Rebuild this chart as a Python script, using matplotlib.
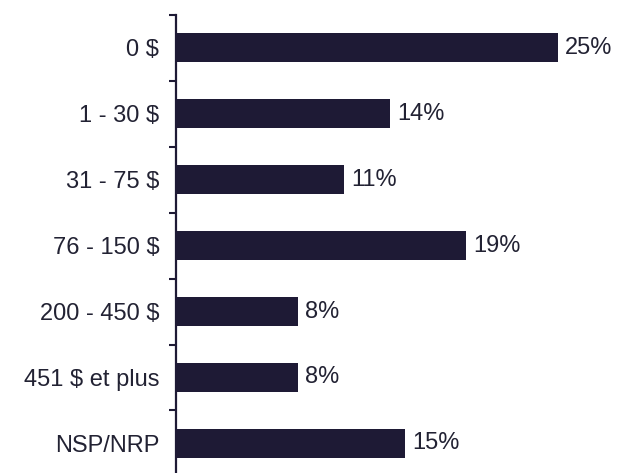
import matplotlib
matplotlib.use("Agg")
import matplotlib.pyplot as plt
import numpy as np

categories = ["0 $", "1 - 30 $", "31 - 75 $", "76 - 150 $", "200 - 450 $", "451 $ et plus", "NSP/NRP"]
values = [25, 14, 11, 19, 8, 8, 15]

plt.rcParams['font.family'] = ['Liberation Sans', 'DejaVu Sans']
bar_color = "#1e1a35"
text_color = "#222233"

fig = plt.figure(figsize=(6.19, 4.73), dpi=100)
W, H = 619, 473
left_px, top_px, right_px = 176, 15, 619
row_px = 65.9
ax_h = 7 * row_px
ax = fig.add_axes([left_px / W, (H - top_px - ax_h) / H, (right_px - left_px) / W, ax_h / H])

y = np.arange(len(categories))
ax.barh(y, values, height=0.44, color=bar_color)
for yi, v in zip(y, values):
    ax.text(v + 0.45, yi, f"{v}%", va="center", ha="left", fontsize=17, color=text_color)

px_per_unit = 15.28
ax.set_xlim(0, (right_px - left_px) / px_per_unit)
ax.set_ylim(6.5, -0.5)
ax.set_yticks(y)
ax.set_yticklabels(categories, fontsize=17, color=text_color)
ax.tick_params(axis='y', which='major', length=0, pad=12)
ax.set_yticks(np.arange(-0.5, 6.6, 1.0), minor=True)
ax.tick_params(axis='y', which='minor', length=5, width=1.5, color=bar_color)
ax.set_xticks([])
for s in ["top", "right", "bottom"]:
    ax.spines[s].set_visible(False)
ax.spines["left"].set_color(bar_color)
ax.spines["left"].set_linewidth(1.6)
ax.patch.set_alpha(0)

fig.savefig("out.png", dpi=100)
